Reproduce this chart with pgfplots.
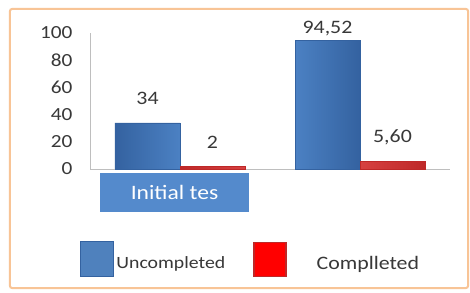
\documentclass[border=0pt]{standalone}
\usepackage{pgfplots}
\pgfplotsset{compat=1.18}
\usepackage{fontspec}
\setmainfont{Carlito}[FakeStretch=1.15]
\definecolor{frameor}{RGB}{248,196,150}
\definecolor{barblue}{RGB}{79,129,189}
\definecolor{barbluelight}{RGB}{96,156,226}
\definecolor{barbluedark}{RGB}{52,98,160}
\definecolor{barred}{RGB}{236,86,86}
\definecolor{barreddark}{RGB}{190,40,40}
\definecolor{legred}{RGB}{255,0,0}
\definecolor{txt}{RGB}{56,56,56}
\definecolor{axgray}{RGB}{190,190,190}
\definecolor{labblue}{RGB}{84,138,204}
\begin{document}
\begin{tikzpicture}[x=1pt,y=1pt]
\useasboundingbox (-90,-123) rectangle (380,169);
\fill[white] (-90,-123) rectangle (380,169);
\draw[frameor, line width=2pt, rounded corners=2pt] (-80,-119) rectangle (378,160);
\begin{axis}[
  at={(0pt,0pt)}, anchor=south west,
  scale only axis, width=360pt, height=136pt,
  xmin=-0.5, xmax=1.5, ymin=0, ymax=100,
  clip=false,
  axis x line=bottom, axis y line=left,
  axis line style={-, draw=axgray, line width=0.8pt},
  major tick length=0pt,
  ytick={0,20,40,60,80,100},
  /pgf/number format/assume math mode=true,
  yticklabel style={font=\fontsize{18.5}{20}\selectfont, text=txt, anchor=east, xshift=-14pt},
  xtick={0}, xticklabels={Initial tes},
  xticklabel style={fill=labblue, text=white, font=\fontsize{20.5}{22}\selectfont,
    minimum width=149pt, minimum height=39pt, inner sep=0pt, anchor=north,
    xshift=-5.5pt, yshift=-4pt},
  ybar, bar width=65pt,
  point meta=explicit symbolic,
  nodes near coords,
  visualization depends on={y \as \rawy},
  every node near coord/.append style={font=\fontsize{19}{21}\selectfont, text=txt,
    anchor=center, yshift={24-12*(\rawy>90)}},
  legend columns=2,
  legend style={at={(-0.028,-0.662)}, anchor=west, draw=none, fill=none,
    inner sep=0pt, outer sep=0pt, nodes={inner sep=0pt, text=txt},
    /tikz/every even column/.append style={column sep=28pt}},
]
\addplot[bar shift=-32.5pt, draw=barbluedark, left color=barbluedark, right color=barbluedark, middle color=barbluelight,
  legend image code/.code={\pgfsetfillcolor{barblue}\pgfsetstrokecolor{barbluedark}\pgfsetlinewidth{1.5pt}%
    \pgfpathrectangle{\pgfpoint{0pt}{-13pt}}{\pgfpoint{33pt}{35pt}}\pgfusepath{fill,stroke}}]
  coordinates {(0,34) [34] (1,94.52) [{94,52}]};
\addlegendentry{\fontsize{17.2}{18}\selectfont\hspace{2pt}Uncompleted}
\addplot[bar shift=32.5pt, draw=barreddark, left color=barreddark, right color=barreddark, middle color=barred,
  legend image code/.code={\pgfsetfillcolor{legred}\pgfsetstrokecolor{barreddark}\pgfsetlinewidth{1.5pt}%
    \pgfpathrectangle{\pgfpoint{0pt}{-13pt}}{\pgfpoint{32pt}{34pt}}\pgfusepath{fill,stroke}}]
  coordinates {(0,2) [2] (1,5.60) [{5,60}]};
\addlegendentry{\fontsize{19}{20}\selectfont\hspace{30pt}Complleted}
\end{axis}
\end{tikzpicture}
\end{document}
